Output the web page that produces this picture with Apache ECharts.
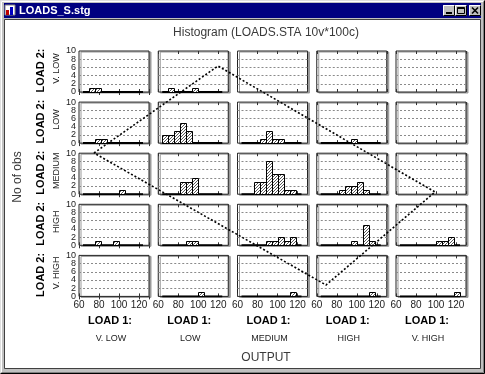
<!DOCTYPE html>
<html><head><meta charset="utf-8">
<script src="https://cdn.jsdelivr.net/npm/echarts@6/dist/echarts.min.js"></script>
<style>html,body{margin:0;padding:0;background:#c0c0c0}#c{width:485px;height:374px}</style>
</head><body><div id="c"></div><script>
// ---------------- data ----------------
const load1Levels = ['V. LOW', 'LOW', 'MEDIUM', 'HIGH', 'V. HIGH'];
const load2Levels = ['V. LOW', 'LOW', 'MEDIUM', 'HIGH', 'V. HIGH'];
const binStart = 64, binWidth = 6, nBins = 10;      // bins 64-70 ... 118-124
const xTickValues = [60, 80, 100, 120];
const yTickValues = [0, 2, 4, 6, 8, 10];
// counts per LOAD 1 column, one array per LOAD 2 row
const countsLoad2VLow = [
  [0,1,1,0,0,0,0,0,0,0],
  [0,1,0,0,0,1,0,0,0,0],
  [0,0,0,0,0,0,0,0,0,0],
  [0,0,0,0,0,0,0,0,0,0],
  [0,0,0,0,0,0,0,0,0,0]
];
const countsLoad2Low = [
  [0,0,1,1,0,0,0,0,0,0],
  [2,2,3,5,3,0,0,0,0,0],
  [0,0,0,1,3,1,1,0,0,0],
  [0,0,0,0,0,1,0,0,0,0],
  [0,0,0,0,0,0,0,0,0,0]
];
const countsLoad2Medium = [
  [0,0,0,0,0,0,1,0,0,0],
  [0,0,0,3,3,4,0,0,0,0],
  [0,0,3,3,8,5,5,1,1,0],
  [0,0,0,1,2,2,3,1,0,0],
  [0,0,0,0,0,0,0,0,0,0]
];
const countsLoad2High = [
  [0,0,1,0,0,1,0,0,0,0],
  [0,0,0,0,1,1,0,0,0,0],
  [0,0,0,0,1,1,2,1,2,0],
  [0,0,0,0,0,1,0,5,1,0],
  [0,0,0,0,0,0,1,1,2,0]
];
const countsLoad2VHigh = [
  [0,0,0,0,0,0,0,0,0,0],
  [0,0,0,0,0,0,1,0,0,0],
  [0,0,0,0,0,0,0,0,1,0],
  [0,0,0,0,0,0,0,0,1,0],
  [0,0,0,0,0,0,0,0,0,1]
];
const allCounts = [countsLoad2VLow, countsLoad2Low, countsLoad2Medium, countsLoad2High, countsLoad2VHigh];

// ---------------- layout ----------------
const FONT = "'Liberation Sans', Arial, sans-serif";
const L = { left0: 79, dx: 79.25, w: 70, top0: 51, dy: 51.1, h: 41 };

// hatch pattern
const pc = document.createElement('canvas'); pc.width = 3; pc.height = 3;
const g = pc.getContext('2d');
g.fillStyle = '#fff'; g.fillRect(0, 0, 3, 3);
g.fillStyle = '#5a5a5a';
g.fillRect(2, 0, 1, 1); g.fillRect(1, 1, 1, 1); g.fillRect(0, 2, 1, 1);
const hatch = { image: pc, repeat: 'repeat' };

const yMin = yTickValues[0], yMax = yTickValues[yTickValues.length - 1];
const yStep = yTickValues[1] - yTickValues[0];
const labelsA = yTickValues.filter((v, i) => i % 2 === 0);   // 0,4,8
const labelsB = yTickValues.filter((v, i) => i % 2 === 1);   // 2,6,10

const grids = [], xAxes = [], yAxes = [], series = [];
const topAxes = [], extraY = [];
for (let r = 0; r < 5; r++) {
  for (let c = 0; c < 5; c++) {
    const idx = r * 5 + c;
    grids.push({
      left: L.left0 + c * L.dx, top: L.top0 + r * L.dy, width: L.w, height: L.h,
      show: true, backgroundColor: '#fff', borderColor: '#222', borderWidth: 1,
      shadowColor: '#9a9a9a', shadowBlur: 0, shadowOffsetX: 2, shadowOffsetY: 1
    });
    xAxes.push({
      type: 'value', gridIndex: idx, min: xTickValues[0], max: 130, interval: xTickValues[1] - xTickValues[0],
      axisLine: { show: false }, splitLine: { show: false },
      axisTick: { show: true, inside: true, length: 3, lineStyle: { color: '#333' } },
      axisLabel: { show: r === 4, fontSize: 10, color: '#222', margin: 4, fontFamily: FONT, showMinLabel: true, showMaxLabel: false }
    });
    topAxes.push({
      type: 'value', gridIndex: idx, position: 'top', min: xTickValues[0], max: 130, interval: xTickValues[1] - xTickValues[0],
      axisLine: { show: false }, splitLine: { show: false },
      axisTick: { show: true, inside: true, length: 3, lineStyle: { color: '#333' } },
      axisLabel: { show: false }
    });
    yAxes.push({
      type: 'value', gridIndex: idx, position: 'left', min: yMin, max: yMax, interval: yStep,
      axisLine: { show: false }, axisTick: { show: false },
      splitLine: { show: true, showMinLine: false, showMaxLine: false, lineStyle: { color: '#8a8a8a', type: [2, 2], width: 1 } },
      axisLabel: { show: c === 0, customValues: labelsA, fontSize: 9, color: '#222', margin: 3, fontFamily: FONT, showMinLabel: true, showMaxLabel: true }
    });
    if (c === 0) {
      extraY.push({
        type: 'value', gridIndex: idx, position: 'left', min: yMin, max: yMax, interval: yStep,
        axisLine: { show: false }, axisTick: { show: false }, splitLine: { show: false },
        axisLabel: { show: true, customValues: labelsB, fontSize: 9, color: '#222', margin: 3, fontFamily: FONT, showMinLabel: true, showMaxLabel: true }
      });
    }
    const counts = allCounts[r][c];
    const bars = [];
    counts.forEach((v, i) => { if (v > 0) bars.push([binStart + i * binWidth, binStart + (i + 1) * binWidth, v]); });
    if (bars.length) {
      series.push({
        type: 'line', xAxisIndex: idx, yAxisIndex: idx, symbol: 'none', silent: true, z: 3,
        lineStyle: { color: '#000', width: 2 },
        data: [[binStart, 0], [binStart + nBins * binWidth, 0]]
      });
      series.push({
        type: 'custom', xAxisIndex: idx, yAxisIndex: idx, z: 4,
        renderItem: function (params, api) {
          const p0 = api.coord([api.value(0), api.value(2)]);
          const p1 = api.coord([api.value(1), 0]);
          return {
            type: 'rect',
            shape: { x: Math.round(p0[0]) + 0.5, y: Math.round(p0[1]) + 0.5, width: Math.round(p1[0]) - Math.round(p0[0]), height: Math.round(p1[1]) - Math.round(p0[1]) },
            style: { fill: hatch, stroke: '#000', lineWidth: 1 }
          };
        },
        encode: { x: [0, 1], y: 2 },
        data: bars
      });
    }
  }
}

// ---------------- window chrome + texts ----------------
const graphic = [];
graphic.push({ type: 'rect', shape: { x: 0.5, y: 0.5, width: 484, height: 373 }, style: { fill: '#c0c0c0', stroke: '#dfdfdf', lineWidth: 1 }, z: -10 });
graphic.push({ type: 'polyline', shape: { points: [[1.5, 372.5], [1.5, 1.5], [483.5, 1.5]] }, style: { stroke: '#fff', lineWidth: 1, fill: null }, z: -9 });
graphic.push({ type: 'polyline', shape: { points: [[0.5, 373.5], [484.5, 373.5], [484.5, 0.5]] }, style: { stroke: '#000', lineWidth: 1, fill: null }, z: -9 });
graphic.push({ type: 'polyline', shape: { points: [[1.5, 372.5], [483.5, 372.5], [483.5, 1.5]] }, style: { stroke: '#808080', lineWidth: 1, fill: null }, z: -9 });
graphic.push({ type: 'rect', shape: { x: 4, y: 3, width: 477, height: 15 }, style: { fill: '#000080' }, z: -8 });
graphic.push({ type: 'rect', shape: { x: 5, y: 5, width: 10, height: 10 }, style: { fill: '#fff', stroke: '#808080', lineWidth: 1 }, z: -7 });
graphic.push({ type: 'rect', shape: { x: 6, y: 10, width: 3, height: 5 }, style: { fill: '#c00000' }, z: -6 });
graphic.push({ type: 'rect', shape: { x: 10, y: 7, width: 3, height: 8 }, style: { fill: '#0000c0' }, z: -6 });
graphic.push({ type: 'text', style: { text: 'LOADS_S.stg', x: 19, y: 10.5, font: "bold 11px " + FONT, fill: '#fff', textVerticalAlign: 'middle' }, z: -6 });
[[443, '_'], [455, 'box'], [469, 'x']].forEach(([bx, t]) => {
  graphic.push({ type: 'rect', shape: { x: bx, y: 5, width: 12, height: 11 }, style: { fill: '#c0c0c0', stroke: null }, z: -6 });
  graphic.push({ type: 'polyline', shape: { points: [[bx + 0.5, 15.5], [bx + 0.5, 5.5], [bx + 11.5, 5.5]] }, style: { stroke: '#fff', fill: null, lineWidth: 1 }, z: -5 });
  graphic.push({ type: 'polyline', shape: { points: [[bx + 0.5, 15.5], [bx + 11.5, 15.5], [bx + 11.5, 5.5]] }, style: { stroke: '#000', fill: null, lineWidth: 1 }, z: -5 });
  if (t === '_') graphic.push({ type: 'rect', shape: { x: bx + 3, y: 12, width: 6, height: 2 }, style: { fill: '#000' }, z: -4 });
  if (t === 'box') graphic.push({ type: 'rect', shape: { x: bx + 2.5, y: 7.5, width: 7, height: 6 }, style: { fill: null, stroke: '#000', lineWidth: 1 }, z: -4 });
  if (t === 'box') graphic.push({ type: 'rect', shape: { x: bx + 2.5, y: 7.5, width: 7, height: 1.5 }, style: { fill: '#000' }, z: -4 });
  if (t === 'x') graphic.push({ type: 'polyline', shape: { points: [[bx + 3, 7.5], [bx + 9, 13.5]] }, style: { stroke: '#000', lineWidth: 1.6, fill: null }, z: -4 });
  if (t === 'x') graphic.push({ type: 'polyline', shape: { points: [[bx + 9, 7.5], [bx + 3, 13.5]] }, style: { stroke: '#000', lineWidth: 1.6, fill: null }, z: -4 });
});
graphic.push({ type: 'rect', shape: { x: 4.5, y: 19.5, width: 476, height: 349 }, style: { fill: '#fff', stroke: '#404040', lineWidth: 1 }, z: -8 });
graphic.push({ type: 'text', style: { text: 'Histogram (LOADS.STA 10v*100c)', x: 266, y: 33, font: "12px " + FONT, fill: '#3a3a3a', textAlign: 'center', textVerticalAlign: 'middle' }, z: 5 });
graphic.push({ type: 'text', style: { text: 'OUTPUT', x: 266, y: 358, font: "12px " + FONT, fill: '#3a3a3a', textAlign: 'center', textVerticalAlign: 'middle' }, z: 5 });
graphic.push({ type: 'text', x: 18, y: 177, rotation: Math.PI / 2, style: { text: 'No of obs', x: 0, y: 0, font: "12px " + FONT, fill: '#3a3a3a', textAlign: 'center', textVerticalAlign: 'middle' }, z: 5 });
load2Levels.forEach((lv, r) => {
  const cy = L.top0 + r * L.dy + L.h / 2;
  graphic.push({ type: 'text', x: 41, y: cy - 1, rotation: Math.PI / 2, style: { text: 'LOAD 2:', x: 0, y: 0, font: "bold 11px " + FONT, fill: '#000', textAlign: 'center', textVerticalAlign: 'middle' }, z: 5 });
  graphic.push({ type: 'text', x: 57, y: cy - 3, rotation: Math.PI / 2, style: { text: lv, x: 0, y: 0, font: "9px " + FONT, fill: '#222', textAlign: 'center', textVerticalAlign: 'middle' }, z: 5 });
});
load1Levels.forEach((lv, c) => {
  const cx = L.left0 + c * L.dx + L.w / 2 - 4;
  graphic.push({ type: 'text', style: { text: 'LOAD 1:', x: cx, y: 321, font: "bold 11px " + FONT, fill: '#000', textAlign: 'center', textVerticalAlign: 'middle' }, z: 5 });
  graphic.push({ type: 'text', style: { text: lv, x: cx + 1, y: 338.5, font: "9px " + FONT, fill: '#222', textAlign: 'center', textVerticalAlign: 'middle' }, z: 5 });
});
graphic.push({ type: 'polyline', shape: { points: [[94, 153], [218, 66], [435, 192], [326, 285], [94, 153]] }, style: { stroke: '#000', lineWidth: 1.6, lineDash: [2, 2], fill: null }, z: 100 });

const chart = echarts.init(document.getElementById('c'), null, { renderer: 'canvas' });
chart.setOption({
  backgroundColor: '#c0c0c0',
  animation: false,
  textStyle: { fontFamily: FONT },
  grid: grids,
  xAxis: xAxes.concat(topAxes),
  yAxis: yAxes.concat(extraY),
  series: series,
  graphic: { elements: graphic }
});
</script></body></html>
